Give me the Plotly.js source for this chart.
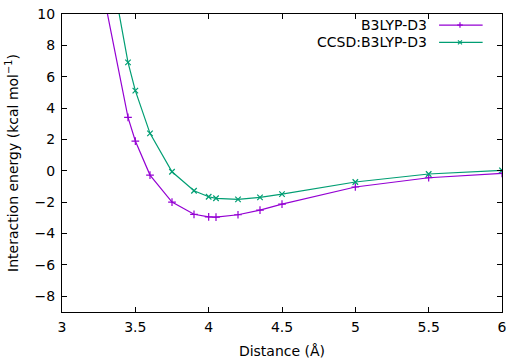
<!DOCTYPE html>
<html>
<head>
<meta charset="utf-8">
<script src="https://cdn.plot.ly/plotly-3.0.1.min.js"></script>
<style>html,body{margin:0;padding:0;background:#fff;}#chart{width:506px;height:361px;}</style>
</head>
<body>
<div id="chart"></div>
<script>
const distance = [3.3, 3.45, 3.5, 3.6, 3.75, 3.9, 4.0, 4.05, 4.2, 4.35, 4.5, 5.0, 5.5, 6.0];
const b3lyp = [10.47, 3.41, 1.90, -0.27, -1.99, -2.77, -2.93, -2.95, -2.80, -2.50, -2.12, -1.03, -0.44, -0.16];
const ccsd = [14.6, 6.92, 5.11, 2.39, -0.06, -1.27, -1.65, -1.75, -1.82, -1.69, -1.48, -0.71, -0.20, 0.03];
const seriesNames = ["B3LYP-D3", "CCSD:B3LYP-D3"];
const xTicks = [3, 3.5, 4, 4.5, 5, 5.5, 6];
const xTickText = ["3", "3.5", "4", "4.5", "5", "5.5", "6"];
const yTicks = [-8, -6, -4, -2, 0, 2, 4, 6, 8, 10];
const yTickText = ["−8", "−6", "−4", "−2", "0", "2", "4", "6", "8", "10"];

const purple = "#9400d3", green = "#009e73";
const font = {family: "DejaVu Sans", size: 14, color: "#000"};

const traces = [
  {x: distance, y: b3lyp, name: seriesNames[0], mode: "lines+markers", cliponaxis: true,
   line: {color: purple, width: 1.2},
   marker: {symbol: "cross-thin", size: 5.5, line: {color: purple, width: 1.2}}},
  {x: distance, y: ccsd, name: seriesNames[1], mode: "lines+markers", cliponaxis: true,
   line: {color: green, width: 1.2},
   marker: {symbol: "x-thin", size: 5.5, line: {color: green, width: 1.2}}}
];

// legend drawn in gnuplot style (text then sample)
const legY = [0.963, 0.905];
const colors = [purple, green];
const annotations = [], shapes = [];
const dx = 2.8/440, dy = 2.8/298;
for (let i = 0; i < 2; i++) {
  annotations.push({xref: "paper", yref: "paper", x: 0.834, y: legY[i], xanchor: "right", yanchor: "middle",
    text: seriesNames[i], showarrow: false, font: font});
  shapes.push({type: "line", xref: "paper", yref: "paper", x0: 0.857, x1: 0.956, y0: legY[i], y1: legY[i],
    line: {color: colors[i], width: 1.2}});
  const cx = 0.9045;
  if (i === 0) {
    shapes.push({type: "line", xref: "paper", yref: "paper", x0: cx - dx, x1: cx + dx, y0: legY[i], y1: legY[i], line: {color: colors[i], width: 1.2}});
    shapes.push({type: "line", xref: "paper", yref: "paper", x0: cx, x1: cx, y0: legY[i] - dy, y1: legY[i] + dy, line: {color: colors[i], width: 1.2}});
  } else {
    const ex = 2/440, ey = 2/298;
    shapes.push({type: "line", xref: "paper", yref: "paper", x0: cx - ex, x1: cx + ex, y0: legY[i] - ey, y1: legY[i] + ey, line: {color: colors[i], width: 1.2}});
    shapes.push({type: "line", xref: "paper", yref: "paper", x0: cx - ex, x1: cx + ex, y0: legY[i] + ey, y1: legY[i] - ey, line: {color: colors[i], width: 1.2}});
  }
}

const layout = {
  width: 506, height: 361,
  margin: {l: 62, r: 4, t: 14, b: 49},
  paper_bgcolor: "#fff", plot_bgcolor: "#fff",
  showlegend: false,
  font: font,
  xaxis: {range: [3, 6], tickvals: xTicks, ticktext: xTickText, ticks: "inside", ticklen: 5, tickwidth: 1,
    tickcolor: "#000", showline: true, linecolor: "#000", linewidth: 1, mirror: "ticks", showgrid: false,
    zeroline: false, automargin: false, ticklabeloverflow: "allow", ticklabelstandoff: 2,
    title: {text: "Distance (Å)", font: font, standoff: 12}},
  yaxis: {range: [-9, 10], tickvals: yTicks, ticktext: yTickText, ticks: "inside", ticklen: 5, tickwidth: 1,
    tickcolor: "#000", showline: true, linecolor: "#000", linewidth: 1, mirror: "ticks", showgrid: false,
    zeroline: false, automargin: false, ticklabelstandoff: 3,
    title: {text: "Interaction energy (kcal mol<sup>−1</sup>)", font: font, standoff: 12}},
  annotations: annotations,
  shapes: shapes
};

Plotly.newPlot("chart", traces, layout, {displayModeBar: false, staticPlot: true});
</script>
</body>
</html>
